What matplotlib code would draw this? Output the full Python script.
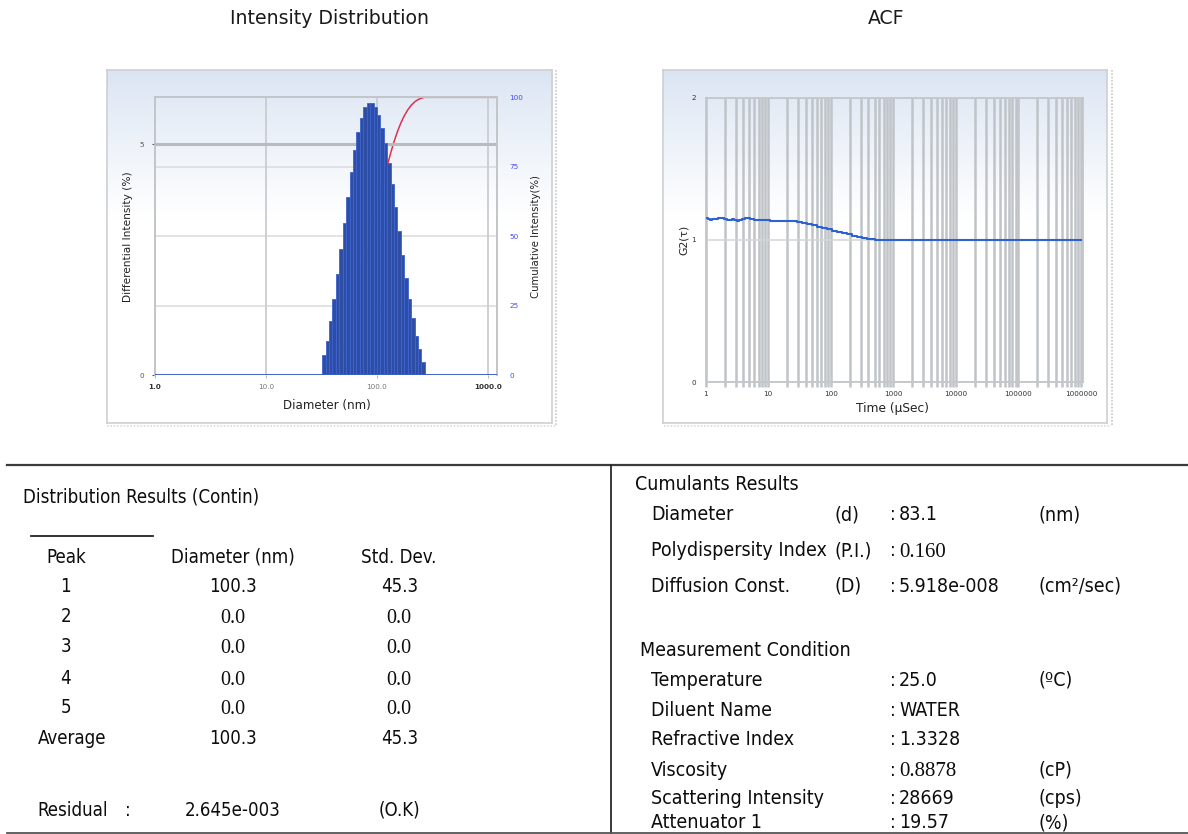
import numpy as np
import matplotlib
matplotlib.use('Agg')
import matplotlib.pyplot as plt
from matplotlib.ticker import FixedLocator, NullFormatter, FixedFormatter

W, H, DPI = 1188, 834, 100

# ---------------- data ----------------
diameter_nm = [33.3, 35.7, 38.4, 41.2, 44.2, 47.5, 50.9, 54.7, 58.7, 63.0,
               67.7, 72.6, 78.0, 83.7, 89.9, 96.5, 103.6, 111.2, 119.4, 128.2,
               137.5, 147.6, 158.5, 170.2, 182.7, 196.1, 210.5, 226.0, 242.6, 260.4]
diff_intensity = [0.43, 0.74, 1.16, 1.65, 2.18, 2.73, 3.30, 3.86, 4.39, 4.87,
                  5.26, 5.58, 5.80, 5.89, 5.89, 5.82, 5.64, 5.36, 5.03, 4.59,
                  4.14, 3.65, 3.12, 2.60, 2.11, 1.65, 1.23, 0.85, 0.56, 0.29]

tau_us = [1.0, 1.09, 1.17, 1.28, 1.41, 1.6, 1.8, 1.95, 2.17, 2.4, 2.6, 2.85, 3.13,
          3.45, 3.77, 4.26, 5.1, 6.0, 7.4, 8.8, 10.7, 14.5, 19.7, 28.5, 35, 41,
          50, 60, 72, 86, 104, 124, 150, 180, 220, 261, 315, 377, 440, 510, 610,
          1000, 10000, 100000, 1000000]
g2 = [1.155, 1.148, 1.141, 1.146, 1.150, 1.153, 1.157, 1.150, 1.141, 1.144, 1.145,
      1.140, 1.136, 1.143, 1.150, 1.155, 1.145, 1.143, 1.141, 1.139, 1.136, 1.135,
      1.133, 1.126, 1.118, 1.110, 1.102, 1.094, 1.085, 1.075, 1.066, 1.056, 1.048,
      1.040, 1.031, 1.023, 1.016, 1.009, 1.005, 1.002, 1.0, 1.0, 1.0, 1.0, 1.0]

diam_ticks = [1, 10, 100, 1000]
diam_tick_labels = ['1.0', '10.0', '100.0', '1000.0']
time_ticks = [1, 10, 100, 1000, 10000, 100000, 1000000]
time_tick_labels = ['1', '10', '100', '1000', '10000', '100000', '1000000']

peaks = ['1', '2', '3', '4', '5']
peak_diam = ['100.3', '0.0', '0.0', '0.0', '0.0']
peak_std = ['45.3', '0.0', '0.0', '0.0', '0.0']
avg_diam, avg_std = '100.3', '45.3'
residual = '2.645e-003'

cumulant_rows = [('Diameter', '(d)', '83.1', '(nm)'),
                 ('Polydispersity Index', '(P.I.)', '0.160', ''),
                 ('Diffusion Const.', '(D)', '5.918e-008', '(cm²/sec)')]
condition_rows = [('Temperature', '25.0', '(ºC)'),
                  ('Diluent Name', 'WATER', ''),
                  ('Refractive Index', '1.3328', ''),
                  ('Viscosity', '0.8878', '(cP)'),
                  ('Scattering Intensity', '28669', '(cps)'),
                  ('Attenuator 1', '19.57', '(%)')]

# ---------------- helpers ----------------
SANS = 'DejaVu Sans'
SERIF = 'Liberation Serif'

fig = plt.figure(figsize=(W / DPI, H / DPI), dpi=DPI)
fig.patch.set_facecolor('white')


def rect(x0, y0, x1, y1):
    return [x0 / W, 1 - y1 / H, (x1 - x0) / W, (y1 - y0) / H]


def panel_bg(x0, y0, x1, y1):
    bg = fig.add_axes(rect(x0, y0, x1, y1), zorder=0)
    n = 300
    t = np.linspace(0, 1, n)
    f = np.clip(t / 0.42, 0, 1) ** 0.9
    top = np.array([0.855, 0.895, 0.95])
    grad = top[None, :] * (1 - f[:, None]) + f[:, None]
    bg.imshow(grad[:, None, :], aspect='auto', extent=[0, 1, 0, 1], origin='upper')
    bg.set_xticks([]); bg.set_yticks([])
    for s in bg.spines.values():
        s.set_color('#cdd0d3'); s.set_linewidth(1.2)
    return bg


# ---------------- Intensity distribution ----------------
panel_bg(106.7, 70, 551.7, 422.7)
XMAX_D = 1200
ax2 = fig.add_axes(rect(155, 97.3, 496.7, 375), zorder=1)
ax = fig.add_axes(rect(155, 97.3, 496.7, 375), zorder=2, sharex=ax2)
for a in (ax, ax2):
    a.patch.set_visible(False)
ax.set_xscale('log')
ax.set_xlim(1, XMAX_D)
ax.set_ylim(0, 6.02)
ax2.set_ylim(0, 100)

logd = np.log10(diameter_nm)
half = np.mean(np.diff(logd)) / 2
left_edges = 10 ** (logd - half)
right_edges = 10 ** (logd + half)
ax.bar(left_edges, diff_intensity, width=right_edges - left_edges, align='edge',
       color='#2e4ea6', edgecolor='#3d63cf', linewidth=0.6, zorder=3)
ax.axhline(0, color='#3a5cc8', lw=1.3, zorder=4)

cum = np.cumsum(diff_intensity)
cum = cum / cum[-1] * 100
ax2.plot(np.r_[left_edges[0], right_edges, XMAX_D], np.r_[0, cum, 100],
         color='#e0304c', lw=1.1, zorder=3)

# grid
ax.set_axisbelow(True)
ax.yaxis.set_major_locator(FixedLocator([0, 5]))
ax.yaxis.set_major_formatter(FixedFormatter(['0', '5']))
ax.grid(axis='y', color='#b9bcbf', lw=2.2)
ax.grid(axis='x', which='major', color='#c9ccd0', lw=1.3)
ax.xaxis.set_major_locator(FixedLocator(diam_ticks))
ax.xaxis.set_major_formatter(FixedFormatter(diam_tick_labels))
ax.xaxis.set_minor_locator(FixedLocator([]))
ax2.yaxis.set_major_locator(FixedLocator([0, 25, 50, 75, 100]))
ax2.grid(axis='y', color='#d9dadc', lw=1.1)
ax2.tick_params(axis='x', which='both', bottom=False, labelbottom=False)
ax2.yaxis.tick_right()
ax2.tick_params(axis='y', labelsize=5.2, labelcolor='#4646ff', length=0, pad=9)
ax.tick_params(axis='y', labelsize=5.2, colors='#555', length=2, pad=6)
ax.tick_params(axis='x', labelsize=5.2, labelcolor='#777', color='#bbb', length=2.5, pad=4)
for lab in ax.get_xticklabels():
    if lab.get_text() in ('1.0', '1000.0'):
        lab.set_fontweight('bold'); lab.set_color('#333')
for a in (ax, ax2):
    for s in ('left', 'right', 'top'):
        a.spines[s].set_color('#c3c6c9'); a.spines[s].set_linewidth(1.3)
    a.spines['bottom'].set_visible(False)

# ---------------- ACF ----------------
panel_bg(663.3, 70, 1106.7, 422.7)
bx = fig.add_axes(rect(705.7, 97.7, 1082.7, 382.3), zorder=2)
bx.patch.set_visible(False)
bx.set_xscale('log')
bx.set_xlim(1, 1.065e6)
bx.set_ylim(0, 2)
minor = [k * 10 ** n for n in range(0, 6) for k in range(2, 10)]
bx.xaxis.set_major_locator(FixedLocator(time_ticks))
bx.xaxis.set_major_formatter(FixedFormatter(time_tick_labels))
bx.xaxis.set_minor_locator(FixedLocator(minor))
bx.xaxis.set_minor_formatter(NullFormatter())
bx.yaxis.set_major_locator(FixedLocator([0, 1, 2]))
bx.set_axisbelow(True)
bx.grid(axis='x', which='both', color='#c0c4c8', lw=1.8)
bx.grid(axis='y', color='#d3d5d7', lw=1.1)
bx.plot(tau_us, g2, color='#2d63d0', lw=1.5, zorder=3, drawstyle='steps-post')
bx.tick_params(axis='x', which='both', labelsize=5.2, color='#c0c4c8', width=1.8,
               length=3.5, pad=3, labelcolor='#333')
bx.tick_params(axis='y', labelsize=5.2, labelcolor='#333', length=0, pad=7)
for s in bx.spines.values():
    s.set_color('#c3c6c9'); s.set_linewidth(1.3)

# ---------------- overlay (titles, labels, tables) ----------------
ov = fig.add_axes([0, 0, 1, 1], zorder=10)
ov.set_xlim(0, W); ov.set_ylim(H, 0); ov.axis('off'); ov.patch.set_visible(False)

# panel shadows
for xs in (555.5, 1111.5):
    ov.plot([xs, xs], [70, 426], color='#c8c8c8', lw=1.2, ls=(0, (1, 1)))
ov.plot([107, 555], [425.5, 425.5], color='#dcdcdc', lw=1.2, ls=(0, (1, 1)))
ov.plot([664, 1111], [425.5, 425.5], color='#dcdcdc', lw=1.2, ls=(0, (1, 1)))

ov.text(330, 18, 'Intensity Distribution', ha='center', va='center', fontsize=13.6,
        family=SANS, color='#1a1a1a')
ov.text(886, 18, 'ACF', ha='center', va='center', fontsize=13.6, family=SANS, color='#1a1a1a')
ov.text(326.7, 405, 'Diameter (nm)', ha='center', va='center', fontsize=8.6, family=SANS, color='#222')
ov.text(128.3, 236.7, 'Differential Intensity (%)', ha='center', va='center', rotation=90,
        fontsize=7.6, family=SANS, color='#222')
ov.text(536, 236.7, 'Cumulative Intensity(%)', ha='center', va='center', rotation=90,
        fontsize=7.3, family=SANS, color='#222')
ov.text(893, 408, 'Time (µSec)', ha='center', va='center', fontsize=8.8, family=SANS, color='#222')
ov.text(684, 240, 'G2(τ)', ha='center', va='center', rotation=90, fontsize=7.8, family=SANS, color='#222')

# separators
ov.plot([7, 1188], [464.5, 464.5], color='#3a3a3a', lw=1.6)
ov.plot([610.5, 610.5], [464.5, 834], color='#2a2a2a', lw=1.3)
ov.plot([7, 1188], [832.8, 832.8], color='#555', lw=1.3)
ov.plot([31, 153], [536, 536], color='#222', lw=1.3)

TL, TR = 13.45, 14.0
SERIF_DY = 1.8


def styles(size):
    tk = dict(va='center', fontsize=size, family=SANS, color='#0d0d0d', fontstretch='condensed')
    sk = dict(va='center', fontsize=size + 1, family=SERIF, color='#0d0d0d')
    return tk, sk


tk, sk = styles(TL)
ov.text(23, 496.7, 'Distribution Results (Contin)', ha='left', **tk)
ov.text(46, 557.3, 'Peak', ha='left', **tk)
ov.text(233, 557.3, 'Diameter (nm)', ha='center', **tk)
ov.text(399, 557.3, 'Std. Dev.', ha='center', **tk)
row_y = [586.7, 616.7, 647.0, 678.3, 707.3]
for p, d, s, y in zip(peaks, peak_diam, peak_std, row_y):
    ov.text(65.7, y, p, ha='center', **tk)
    for txt, x in ((d, 233), (s, 399.3)):
        if txt == '0.0':
            ov.text(x, y + SERIF_DY, txt, ha='center', **sk)
        else:
            ov.text(x, y, txt, ha='center', **tk)
ov.text(38.3, 738.3, 'Average', ha='left', **tk)
ov.text(233, 738.3, avg_diam, ha='center', **tk)
ov.text(399.3, 738.3, avg_std, ha='center', **tk)
ov.text(37.7, 810, 'Residual', ha='left', **tk)
ov.text(128, 810, ':', ha='center', **tk)
ov.text(232.7, 810, residual, ha='center', **tk)
ov.text(399.3, 810, '(O.K)', ha='center', **tk)

tk, sk = styles(TR)
serif_vals = {'0.160', '0.8878'}


def value(y, val):
    if val in serif_vals:
        ov.text(899, y + SERIF_DY, val, ha='left', **sk)
    else:
        ov.text(899, y, val, ha='left', **tk)


ov.text(635, 484, 'Cumulants Results', ha='left', **tk)
for (name, sym, val, unit), y in zip(cumulant_rows, [515, 550.7, 586]):
    ov.text(651, y, name, ha='left', **tk)
    ov.text(834, y, sym, ha='left', **tk)
    ov.text(890, y, ':', ha='left', **tk)
    value(y, val)
    if unit:
        ov.text(1038, y, unit, ha='left', **tk)
ov.text(640, 650.7, 'Measurement Condition', ha='left', **tk)
for (name, val, unit), y in zip(condition_rows, [680, 710, 739.3, 770, 798.3, 822.7]):
    ov.text(651, y, name, ha='left', **tk)
    ov.text(890, y, ':', ha='left', **tk)
    value(y, val)
    if unit:
        ov.text(1038, y, unit, ha='left', **tk)

fig.savefig('out.png', dpi=DPI, facecolor='white')
